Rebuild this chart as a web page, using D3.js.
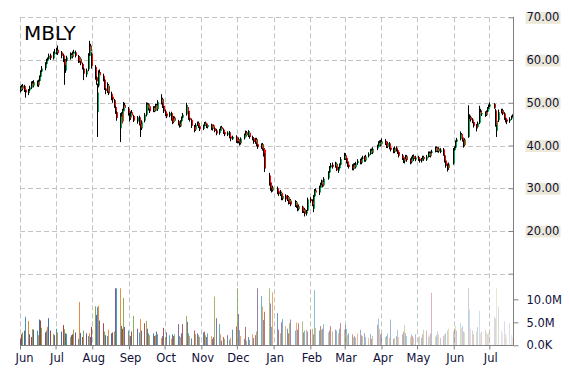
<!DOCTYPE html>
<html><head><meta charset="utf-8">
<script src="https://cdn.jsdelivr.net/npm/d3@7"></script>
<style>
html,body{margin:0;padding:0;background:#fff;}
svg{display:block;}
</style></head>
<body><svg id="c" width="570" height="370"></svg>
<script>
const ticker = "MBLY";
const priceTicks = [10, 20, 30, 40, 50, 60, 70];
const volumeTicks = [0, 5, 10];
const holidays = ["2015-07-03","2015-09-07","2015-11-26","2015-12-25","2016-01-01","2016-01-18","2016-02-15","2016-03-25","2016-05-30","2016-07-04"];
const firstDay = "2015-06-01", lastDay = "2016-07-20";

// daily prices, month by month (Jun 2015 .. Jul 2016)
const opens = [
53.0,53.8,53.3,53.9,53.1,52.3,52.9,53.6,54.6,54.0,54.9,54.1,55.1,56.1,57.3,58.1,59.1,59.9,60.3,61.1,60.4,61.4,
61.8,62.4,61.8,61.1,60.0,57.5,59.8,60.5,61.3,60.7,61.5,61.8,60.8,59.7,60.3,59.1,58.0,56.6,57.8,61.0,63.4,61.5,
58.4,56.0,47.8,54.0,57.2,56.3,55.4,53.3,52.6,54.0,52.1,51.4,50.6,49.0,47.8,44.0,47.5,45.6,48.0,49.5,48.6,
46.8,46.5,47.8,46.9,45.6,46.6,45.0,44.0,45.8,47.2,49.6,48.6,49.2,48.1,48.9,48.3,49.4,48.5,50.0,50.9,49.3,
48.0,47.5,46.9,47.6,46.1,45.5,46.5,45.7,45.1,44.5,45.7,46.5,47.3,49.0,48.1,46.5,46.0,44.4,43.7,44.9,45.3,44.5,
43.9,44.7,45.3,45.0,44.3,44.9,43.9,44.7,44.1,43.5,42.9,43.6,44.3,43.7,43.1,42.5,43.1,42.1,41.5,42.1,
41.1,41.5,40.9,40.5,41.7,42.3,43.1,42.3,43.0,41.9,41.7,40.7,41.5,40.3,39.5,40.3,39.3,39.0,33.0,31.4,30.1,29.5,
30.0,29.3,28.5,28.9,27.5,28.3,27.3,27.9,26.7,27.1,26.0,26.7,25.7,25.1,25.7,24.5,25.1,24.1,24.8,
27.5,26.9,25.2,28.1,29.5,29.0,30.1,30.9,31.5,30.7,32.3,33.7,34.9,35.5,35.1,35.7,34.1,34.7,35.5,36.9,
37.7,37.1,36.3,35.5,35.1,34.5,35.5,34.9,35.9,36.5,35.9,36.9,37.3,36.5,37.5,38.1,38.9,38.3,39.3,39.7,40.7,40.1,
40.3,41.1,40.5,39.7,40.5,39.5,39.1,38.5,39.5,38.9,38.5,37.7,37.1,36.3,36.9,37.5,36.7,36.1,37.1,37.5,36.7,
37.3,36.9,36.3,36.9,37.3,36.7,37.5,38.3,37.5,38.3,38.7,39.5,38.7,39.3,38.5,39.1,37.7,36.5,35.3,34.7,35.8,
38.9,39.5,40.9,41.5,42.7,41.9,41.3,40.1,42.0,46.3,46.7,46.1,45.5,44.7,44.3,45.3,48.0,47.3,47.8,47.1,47.9,48.5,
49.1,49.7,48.2,43.4,45.9,47.9,48.3,47.5,46.5,46.1,45.7,46.3,46.7
];
const highs = [
53.9,54.2,54.4,54.2,53.5,53.2,54.0,55.0,55.1,55.3,55.2,55.4,56.4,57.6,58.6,59.5,60.3,60.6,61.5,61.5,62.0,62.6,
62.9,63.4,62.1,61.5,60.4,60.2,61.0,61.8,61.6,62.0,62.4,62.2,61.2,60.9,60.6,59.4,58.4,58.0,61.6,64.5,63.8,61.8,
58.8,56.6,54.5,57.6,57.8,56.8,55.8,53.8,54.8,54.4,52.6,51.8,50.9,49.5,48.2,47.6,47.8,48.6,50.2,50.0,49.0,
47.6,48.0,48.3,47.2,46.9,47.0,45.6,45.9,47.6,50.1,50.0,49.9,49.6,49.2,49.2,49.8,49.7,50.6,52.0,51.2,49.6,
48.4,47.8,47.9,47.9,46.4,46.9,46.8,46.0,45.5,45.9,46.8,47.6,50.0,49.4,48.4,46.8,46.3,44.8,45.2,45.6,45.6,44.8,
44.9,45.5,45.6,45.3,45.1,45.1,44.9,44.9,44.5,43.9,43.9,44.5,44.6,44.0,43.4,43.3,43.4,42.6,42.3,42.4,
41.8,41.9,41.3,41.9,42.8,43.5,43.4,43.6,43.3,42.3,42.0,41.8,41.8,40.8,40.5,40.6,39.8,39.4,33.6,32.0,30.8,30.6,
30.4,29.8,29.6,29.2,28.6,28.6,28.4,28.2,27.6,27.5,27.2,27.0,26.2,26.2,25.9,25.4,25.4,24.9,27.8,
27.9,27.4,28.4,29.8,30.0,30.6,31.3,32.0,31.8,32.6,34.0,35.2,35.9,36.0,36.2,36.0,35.0,35.8,37.3,38.3,
38.2,37.5,36.7,36.0,35.6,35.8,35.9,36.2,36.8,36.9,37.2,37.6,37.6,37.8,38.4,39.2,39.3,39.6,40.2,41.0,41.2,41.3,
41.7,41.5,40.9,40.9,40.8,39.8,39.5,39.8,39.8,39.2,38.8,38.0,37.5,37.2,37.8,37.8,37.0,37.4,37.8,37.9,37.6,
37.6,37.2,37.1,37.6,37.6,37.8,38.6,38.6,38.6,39.0,39.8,39.8,39.6,39.6,39.4,39.4,38.0,36.8,35.8,36.0,39.4,
39.8,41.2,41.8,43.3,42.9,42.2,41.5,41.7,49.4,47.3,47.0,46.4,45.8,45.0,45.6,49.3,48.6,48.2,48.0,48.2,49.0,49.6,
50.1,49.9,48.6,46.2,48.4,48.6,48.6,47.8,46.8,46.4,46.6,47.0,47.3
];
const lows = [
52.4,52.7,52.9,52.5,51.2,51.8,52.6,53.2,53.6,53.6,53.8,53.7,54.8,55.8,56.9,57.6,58.8,59.3,60.0,60.0,60.1,61.0,
61.3,61.2,60.4,59.5,54.2,57.0,59.4,60.1,60.4,60.4,61.1,60.6,59.3,59.4,58.8,57.8,55.3,56.0,57.4,60.7,61.6,58.0,
55.4,54.2,42.0,53.6,56.0,55.0,53.0,52.0,52.3,51.8,50.6,50.0,48.8,47.4,45.8,40.8,44.6,45.2,47.6,48.3,47.0,
45.6,46.0,46.6,45.5,45.1,44.7,42.0,43.6,45.4,46.8,48.4,48.2,47.6,47.8,47.8,48.0,48.2,48.1,49.6,48.8,47.6,
46.9,46.4,46.6,45.8,45.0,45.2,45.5,44.7,44.2,44.3,45.4,46.2,47.0,47.6,46.0,45.6,44.1,43.1,43.4,44.6,44.1,43.4,
43.6,44.4,44.6,44.1,44.0,43.6,43.5,43.9,43.1,42.4,42.5,43.2,43.5,42.7,42.2,42.2,41.7,41.0,41.3,40.6,
40.5,40.5,40.0,40.2,41.4,42.0,42.1,42.0,41.6,41.2,40.4,40.4,39.8,39.2,39.2,38.8,37.4,33.8,30.6,29.4,29.0,29.2,
28.6,28.2,28.2,27.2,27.2,26.8,27.0,26.2,26.3,25.8,25.6,25.4,24.6,24.8,24.2,24.2,23.4,23.6,24.6,
26.6,25.8,24.4,27.8,28.6,28.4,29.6,30.6,30.2,30.4,32.0,33.4,34.6,34.6,34.8,34.0,33.6,34.4,35.2,36.6,
36.6,35.8,35.0,34.6,34.2,34.2,34.7,34.6,35.5,35.6,35.6,36.6,36.2,36.2,37.2,37.8,38.0,38.0,38.9,39.4,39.8,39.8,
40.0,40.1,39.4,39.4,39.1,38.6,38.2,38.2,38.6,38.0,37.2,36.6,35.9,35.8,36.5,36.2,35.6,35.8,36.6,36.4,36.3,
36.4,36.0,36.0,36.5,36.4,36.4,37.2,37.3,37.2,37.9,38.4,38.5,38.4,38.3,38.2,37.6,36.0,34.8,33.9,34.3,35.5,
38.5,39.2,40.6,41.2,41.5,40.9,39.5,39.8,41.8,45.9,45.6,45.2,44.2,43.3,44.0,45.0,47.0,46.9,46.7,46.9,47.6,48.2,
48.7,48.6,44.4,42.0,45.5,47.5,47.1,46.0,45.4,45.0,45.3,46.0,46.5
];
const closes = [
53.6,53.2,54.0,53.0,52.4,52.8,53.6,54.5,54.0,54.8,54.2,55.0,56.0,57.2,58.0,59.0,59.8,60.2,61.0,60.5,61.5,61.8,
62.2,61.6,61.0,60.2,58.8,59.6,60.6,61.2,60.8,61.6,61.9,61.0,59.8,60.4,59.2,58.2,56.8,57.6,61.0,63.2,62.0,58.6,
56.2,55.0,52.4,57.0,56.4,55.6,53.4,52.8,54.2,52.2,51.2,50.8,49.2,48.0,46.4,46.8,45.2,48.2,49.4,48.8,47.6,
46.4,47.6,47.0,45.8,46.6,45.0,44.2,45.6,47.2,49.6,48.8,49.4,48.0,48.8,48.2,49.4,48.6,50.2,50.8,49.2,48.0,
47.4,46.8,47.6,46.0,45.4,46.4,45.8,45.0,44.6,45.6,46.4,47.2,49.2,48.0,46.4,46.0,44.6,43.6,44.8,45.2,44.4,43.8,
44.6,45.2,45.0,44.4,44.8,44.0,44.6,44.2,43.4,42.8,43.6,44.2,43.8,43.0,42.6,43.0,42.0,41.6,42.0,41.0,
41.4,40.8,40.6,41.6,42.4,43.0,42.4,43.2,42.0,41.6,40.8,41.4,40.2,39.6,40.2,39.2,38.2,34.6,31.2,30.0,29.6,30.2,
29.2,28.6,29.0,27.6,28.2,27.4,28.0,26.6,27.2,26.2,26.8,25.8,25.2,25.8,24.6,25.0,24.0,24.6,27.4,
27.0,26.2,28.0,29.4,29.0,30.2,30.8,31.6,30.6,32.2,33.6,34.8,35.4,35.0,35.8,34.2,34.6,35.4,36.8,37.6,
37.0,36.2,35.4,35.0,34.6,35.4,35.0,35.8,36.4,36.0,36.8,37.2,36.6,37.4,38.0,38.8,38.4,39.2,39.8,40.6,40.2,40.8,
41.0,40.4,39.8,40.6,39.4,39.0,38.6,39.4,39.0,38.4,37.6,37.0,36.4,36.8,37.4,36.6,36.2,37.0,37.4,36.8,37.2,
36.8,36.4,36.8,37.2,36.8,37.4,38.2,37.6,38.2,38.6,39.4,38.8,39.2,38.6,39.0,37.8,36.4,35.2,34.6,35.6,38.8,
39.4,40.8,41.4,42.6,41.8,41.2,40.0,41.4,46.2,46.6,46.0,45.4,44.6,44.2,45.2,47.8,47.4,47.6,47.2,47.8,48.6,49.0,
49.6,48.8,44.8,45.8,47.8,48.2,47.4,46.4,46.0,45.6,46.2,46.6,47.0
];
// daily volume, millions of shares
const volumes = [
1.4,2.4,2.8,3.2,6.2,5.3,2.4,1.8,3.5,3.4,3.2,2.2,5.6,5.4,3.8,2.8,3.2,4.0,5.9,3.2,2.5,2.2,
3.6,2.8,3.0,4.4,3.5,2.6,2.5,1.8,2.2,2.4,3.4,2.8,1.4,9.4,2.7,1.8,3.2,2.6,2.0,2.6,1.8,4.0,
8.5,6.6,8.3,8.6,5.4,4.8,3.0,2.2,2.0,3.4,2.6,2.8,3.0,14.0,16.0,18.0,4.2,3.6,10.3,4.0,3.2,
2.2,2.0,3.0,6.4,3.6,2.8,5.7,3.2,4.8,5.3,3.6,2.6,2.2,2.6,2.0,2.2,3.0,2.4,1.6,2.0,3.8,
1.8,2.8,2.2,1.4,2.4,2.0,2.4,4.6,2.0,1.8,2.6,4.6,6.4,5.1,2.6,2.0,1.5,3.2,2.4,2.6,2.2,1.8,
2.8,3.0,2.2,1.8,2.6,2.0,1.4,1.8,10.6,5.9,4.6,2.4,1.0,1.8,1.4,2.2,1.2,1.6,3.4,4.1,
16.0,6.8,3.3,2.0,1.4,4.0,1.0,1.8,1.2,2.4,1.6,2.2,3.0,14.0,10.7,8.4,5.5,7.3,16.0,9.1,4.0,11.5,
7.0,3.4,2.6,5.0,5.7,4.2,3.6,2.6,4.8,5.6,3.2,5.0,3.4,4.8,5.2,2.8,3.2,3.4,3.0,
3.4,3.6,2.4,12.0,3.8,3.2,4.2,3.4,3.6,4.6,2.8,3.2,4.2,3.0,3.4,3.2,2.6,3.6,4.8,3.4,
4.4,3.6,2.2,2.6,2.4,1.8,2.0,1.6,2.6,3.4,2.2,2.0,2.6,1.8,1.6,2.4,1.4,2.0,4.5,5.8,3.6,2.4,
2.6,1.8,2.0,2.6,1.6,5.6,1.4,1.6,2.0,3.4,1.8,2.4,3.0,4.4,2.6,2.0,1.8,2.4,2.0,1.6,2.4,
1.8,2.0,1.6,2.4,3.4,3.2,1.8,2.2,2.6,11.4,1.8,2.2,3.0,2.4,1.6,2.0,2.4,2.6,3.2,3.6,3.0,
3.6,4.2,3.2,4.8,3.8,4.2,3.0,2.8,12.4,7.8,3.6,3.2,2.4,3.0,4.0,7.5,2.6,3.0,3.4,2.8,2.4,2.6,
3.0,6.2,5.8,12.4,8.4,3.2,2.6,5.2,2.4,1.8,4.8,2.2,1.8
];
const volumeColors = ["#3E6CA6","#A8413E","#86A64A","#6E5590","#3F99B2","#E8863A"];
const upColor = "#00b050", downColor = "#ff0000";

// trading calendar (weekdays minus exchange holidays)
const parse = d3.timeParse("%Y-%m-%d"), fmt = d3.timeFormat("%Y-%m-%d");
const hol = new Set(holidays);
const dates = d3.timeDay.range(parse(firstDay), d3.timeDay.offset(parse(lastDay), 1))
  .filter(d => d.getDay() !== 0 && d.getDay() !== 6 && !hol.has(fmt(d)));
const n = Math.min(dates.length, opens.length, highs.length, lows.length, closes.length, volumes.length);
const data = d3.range(n).map(i => ({date: dates[i], o: opens[i], h: highs[i], l: lows[i], c: closes[i], v: volumes[i]}));

const svg = d3.select("#c");
const L = 20, R = 513.5, T = 17.3, B = 345.5;
const x = d3.scaleTime().domain([new Date(2015,5,1), new Date(2016,6,1)]).range([20, 489.3]);
const yP = d3.scaleLinear().domain([10, 70]).range([273.7, 17.3]);
const yV = d3.scaleLinear().domain([0, 12.4]).range([345.3, 288.3]).clamp(true);
const months = d3.timeMonth.range(new Date(2015,5,1), new Date(2016,6,2));

const gridColor = "#c4c4c4";
// vertical grid
svg.append("g").selectAll("line").data(months).join("line")
  .attr("x1", d => Math.round(x(d)) + 0.5).attr("x2", d => Math.round(x(d)) + 0.5)
  .attr("y1", T).attr("y2", B)
  .attr("stroke", gridColor).attr("stroke-dasharray", "5,3");
// horizontal grid
svg.append("g").selectAll("line").data(priceTicks).join("line")
  .attr("x1", L).attr("x2", R - 5)
  .attr("y1", d => Math.round(yP(d)) + 0.5).attr("y2", d => Math.round(yP(d)) + 0.5)
  .attr("stroke", gridColor).attr("stroke-dasharray", "5,3");

// volume bars (fading towards the most recent sessions)
svg.append("g").selectAll("rect").data(data).join("rect")
  .attr("x", d => Math.round(x(d.date)))
  .attr("width", 1)
  .attr("y", d => yV(d.v))
  .attr("height", d => yV(0) - yV(d.v))
  .attr("fill", (d, i) => volumeColors[i % volumeColors.length])
  .attr("fill-opacity", (d, i) => 1 - 0.8 * Math.pow(i / (n - 1), 1.6));

// candles
const cg = svg.append("g");
cg.selectAll("line").data(data).join("line")
  .attr("x1", d => Math.round(x(d.date)) + 0.5).attr("x2", d => Math.round(x(d.date)) + 0.5)
  .attr("y1", d => yP(d.h)).attr("y2", d => yP(d.l))
  .attr("stroke", "#000").attr("stroke-width", 1);
cg.selectAll("rect").data(data).join("rect")
  .attr("x", d => Math.round(x(d.date)) + 1)
  .attr("width", 1)
  .attr("y", d => yP(Math.max(d.o, d.c)))
  .attr("height", d => Math.max(1, Math.abs(yP(d.o) - yP(d.c))))
  .attr("fill", d => d.c >= d.o ? upColor : downColor);

// axes lines
svg.append("line").attr("x1", R).attr("x2", R).attr("y1", T - 0.5).attr("y2", B)
  .attr("stroke", "#808080");
svg.append("line").attr("x1", L).attr("x2", R).attr("y1", B).attr("y2", B)
  .attr("stroke", "#808080");

const fontFam = "'DejaVu Sans', Verdana, sans-serif";
const textColor = "#10103a";

// price axis
const pAxis = svg.append("g").attr("transform", `translate(${R},0)`)
  .call(d3.axisRight(yP).tickValues(priceTicks).tickSize(-5).tickPadding(13)
    .tickFormat(d => d === 10 ? "" : d3.format(".2f")(d)));
pAxis.select(".domain").remove();
pAxis.selectAll(".tick line").attr("stroke", "#808080");
pAxis.selectAll(".tick text").attr("font-family", fontFam).attr("font-size", 11.5).attr("fill", textColor);
pAxis.selectAll(".tick").filter(d => d !== 10).insert("rect", "text")
  .attr("x", 12).attr("y", -6).attr("width", 35).attr("height", 12).attr("fill", "#ECE9D8");

// volume axis
const vAxis = svg.append("g").attr("transform", `translate(${R},0)`)
  .call(d3.axisRight(yV).tickValues(volumeTicks).tickSize(5).tickPadding(8)
    .tickFormat(d => d === 0 ? "0.0K" : d3.format(".1f")(d) + "M"));
vAxis.select(".domain").remove();
vAxis.selectAll(".tick line").attr("stroke", "#808080");
vAxis.selectAll(".tick text").attr("font-family", fontFam).attr("font-size", 11.5).attr("fill", textColor);

// time axis
const tAxis = svg.append("g").attr("transform", `translate(0,${B})`)
  .call(d3.axisBottom(x).tickValues(months).tickSize(4).tickPadding(4).tickFormat(d3.timeFormat("%b")));
tAxis.select(".domain").remove();
tAxis.selectAll(".tick line").attr("stroke", "#808080");
tAxis.selectAll(".tick text").attr("font-family", fontFam).attr("font-size", 11.5).attr("fill", textColor)
  .attr("dx", (d, i) => i === 0 ? 4 : 1);

// title
svg.append("text").attr("x", 24).attr("y", 40).text(ticker)
  .attr("font-family", fontFam).attr("font-size", 20).attr("fill", "#000");
</script></body></html>
